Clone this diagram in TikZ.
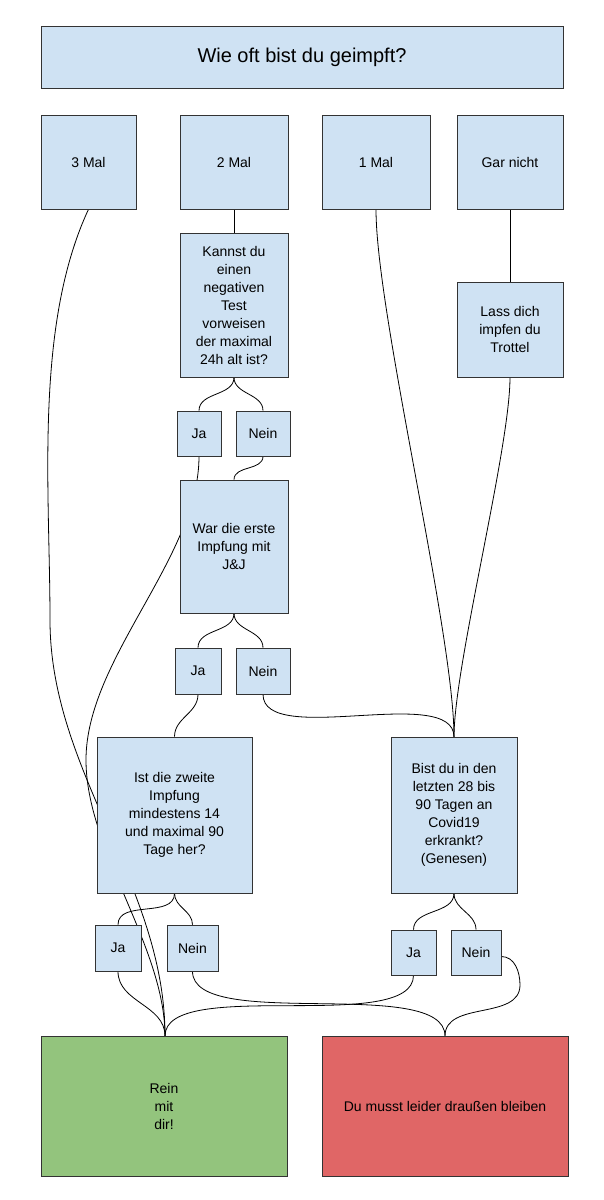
\documentclass[tikz,border=0pt]{standalone}
\usepackage{fontspec}
\setmainfont{Liberation Sans}
\usetikzlibrary{backgrounds}
\begin{document}
\begin{tikzpicture}[x=1pt,y=-1pt,
  box/.style={draw=black!80,line width=0.6pt,fill=bl,inner sep=0pt,align=center,font=\fontsize{14}{18}\selectfont},
  ln/.style={line width=0.8pt},
  cv/.style={ln,out=-90,in=90}]
\definecolor{bl}{HTML}{CFE2F3}
\definecolor{gr}{HTML}{93C47D}
\definecolor{rd}{HTML}{E06666}
\useasboundingbox (0,0) rectangle (603,1200);
\newcommand{\bx}[6][]{\node[box,#1,minimum width=#4-#2,minimum height=#5-#3] (#6) at ({(#2+#4)/2},{(#3+#5)/2})}
\bx[font=\fontsize{20}{24}\selectfont]{41}{26}{563}{88}{t} {Wie oft bist du geimpft?};
\bx{41}{115}{136}{209}{m3} {3 Mal};
\bx{180}{115}{288}{209}{m2} {2 Mal};
\bx{322}{115}{430}{209}{m1} {1 Mal};
\bx{457}{115}{563}{209}{m0} {Gar nicht};
\bx{180}{233}{288}{377}{k} {Kannst du\\einen\\negativen\\Test\\vorweisen\\der maximal\\24h alt ist?};
\bx{457}{282}{563}{377}{l} {Lass dich\\impfen du\\Trottel};
\bx{177}{411}{221}{456}{ja1} {Ja};
\bx{236}{411}{290}{456}{ne1} {Nein};
\bx{180}{480}{288}{613}{w} {War die erste\\Impfung mit\\J\&J};
\bx{175}{648}{221}{694}{ja2} {Ja};
\bx{236}{648}{290}{694}{ne2} {Nein};
\bx{97}{737}{252}{893}{i} {Ist die zweite\\Impfung\\mindestens 14\\und maximal 90\\Tage her?};
\bx{391}{737}{517}{893}{b} {Bist du in den\\letzten 28 bis\\90 Tagen an\\Covid19\\erkrankt?\\(Genesen)};
\bx{95}{925}{141}{971}{ja3} {Ja};
\bx{167}{925}{218}{971}{ne3} {Nein};
\bx{391}{930}{436}{975}{ja4} {Ja};
\bx{451}{930}{501}{975}{ne4} {Nein};
\bx[fill=gr]{41}{1036}{287}{1176}{g} {Rein\\mit\\dir!};
\bx[fill=rd]{322}{1036}{568}{1176}{r} {Du musst leider draußen bleiben};
\coordinate (gt) at (165,1036);
\coordinate (rt) at (445,1036);
\coordinate (bt) at (454,737);
\coordinate (v3) at (50,620);
\coordinate (v1) at (86,760);
\coordinate (ve) at (520,985);
\begin{scope}[on background layer]
\draw[cv] ([xshift=0pt]m3.south) to[out=-115,in=90,looseness=0.8] (v3) to[out=-90,in=90,looseness=0.9] (gt);
\draw[ln] (m2) -- (k);
\draw[ln] (m0) -- (l);
\draw[cv] (k.south) to (ja1.north);
\draw[cv] (k.south) to (ne1.north);
\draw[cv,looseness=0.8] (ja1.south) to (v1) to[out=-90,in=90,looseness=0.8] (gt);
\draw[cv] (ne1.south) to (w.north);
\draw[cv] (w.south) to (ja2.north);
\draw[cv] (w.south) to (ne2.north);
\draw[cv] (ja2.south) to (i.north);
\draw[cv,looseness=0.7] (ne2.south) to (bt);
\draw[cv,looseness=0.5] (m1.south) to (bt);
\draw[cv,looseness=0.5] (l.south) to (bt);
\draw[cv] (b.south) to (ja4.north);
\draw[cv] (b.south) to (ne4.north);
\draw[cv] (i.south) to (ja3.north);
\draw[cv] (i.south) to (ne3.north);
\draw[cv] (ja3.south) to (gt);
\draw[cv,looseness=0.6] (ne3.south) to (rt);
\draw[cv,looseness=0.6] (ja4.south) to (gt);
\draw[ln] ([yshift=-4pt]ne4.east) to[out=0,in=90] (ve) to[out=-90,in=90] (rt);
\end{scope}
\end{tikzpicture}
\end{document}
